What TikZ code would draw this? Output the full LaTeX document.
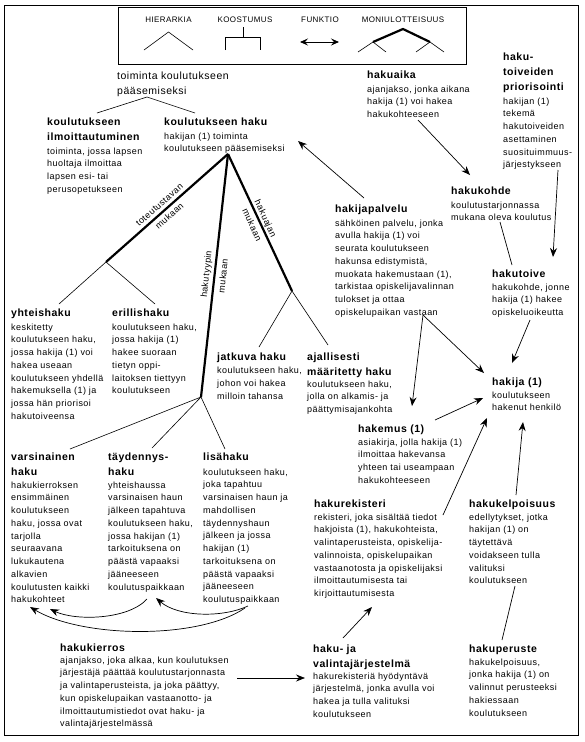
\documentclass[tikz,border=0pt]{standalone}
\usepackage{fontspec}
\setmainfont[LetterSpace=5]{Liberation Sans}
\usetikzlibrary{arrows.meta}
\begin{document}
\begin{tikzpicture}[x=1pt,y=-1pt,
  ttl/.style={anchor=north west, inner sep=0pt, align=left, font=\fontsize{10.5}{15}\selectfont\bfseries},
  bdy/.style={anchor=north west, inner sep=0pt, align=left, font=\fontsize{9}{12.75}\selectfont},
  toptxt/.style={anchor=north west, inner sep=0pt, align=left, font=\fontsize{10.5}{15}\selectfont},
  leg/.style={inner sep=0pt, font=\fontsize{8}{9}\selectfont},
  lbl/.style={inner sep=0pt, align=center, font=\fontsize{9}{15}\selectfont},
  thinln/.style={line width=0.6pt},
  thickln/.style={line width=2.2pt},
  arr/.style={line width=0.7pt, -{Stealth[length=9pt,width=7pt,inset=3pt]}},
  plain/.style={line width=0.7pt}
]
\useasboundingbox (0,0) rectangle (584,742);
% frames
\draw[line width=0.8pt] (4.5,5) rectangle (578,735.5);
\draw[line width=0.8pt] (118.5,7.5) rectangle (466,64);
% legend
\node[leg] (lh) at (168.5,19.5) {HIERARKIA};
\node[leg] (lk) at (245,19.5) {KOOSTUMUS};
\node[leg] (lf) at (320,19.5) {FUNKTIO};
\node[leg] (lm) at (403,19.5) {MONIULOTTEISUUS};
\draw[thinln] (144,50) -- (168.5,32) -- (193,50);
\draw[thinln] (243,27) -- (243,37.5);
\draw[thinln] (225,50) -- (225,37.5) -- (260,37.5) -- (260,50);
\draw[line width=0.9pt, {Stealth[length=8pt,width=7pt,inset=3pt]}-{Stealth[length=8pt,width=7pt,inset=3pt]}] (300,42) -- (339,42);
\draw[thickln] (373,42) -- (403,29) -- (430,42);
\draw[thinln] (358,52) -- (373,42) -- (386,52);
\draw[thinln] (416,52) -- (430,42) -- (444,52);

% concept nodes
\node[toptxt] (top) at (117,71.5) {toiminta koulutukseen\\pääsemiseksi};

\node[ttl] (kilmT) at (47,117.5) {koulutukseen\\ilmoittautuminen};
\node[bdy] (kilmB) at (47,147.3) {toiminta, jossa lapsen\\huoltaja ilmoittaa\\lapsen esi- tai\\perusopetukseen};

\node[ttl] (khakuT) at (164,117.5) {koulutukseen haku};
\node[bdy] (khakuB) at (164,132.3) {hakijan (1) toiminta\\koulutukseen pääsemiseksi};

\node[ttl] (yhtT) at (11,308.5) {yhteishaku};
\node[bdy] (yhtB) at (11,323.3) {keskitetty\\koulutukseen haku,\\jossa hakija (1) voi\\hakea useaan\\koulutukseen yhdellä\\hakemuksella (1) ja\\jossa hän priorisoi\\hakutoiveensa};

\node[ttl] (eriT) at (112,308.5) {erillishaku};
\node[bdy] (eriB) at (112,323.3) {koulutukseen haku,\\jossa hakija (1)\\hakee suoraan\\tietyn oppi-\\laitoksen tiettyyn\\koulutukseen};

\node[ttl] (jatT) at (217,352.5) {jatkuva haku};
\node[bdy] (jatB) at (217,367) {koulutukseen haku,\\johon voi hakea\\milloin tahansa};

\node[ttl] (ajaT) at (307,352.5) {ajallisesti\\määritetty haku};
\node[bdy] (ajaB) at (307,380.3) {koulutukseen haku,\\jolla on alkamis- ja\\päättymisajankohta};

\node[ttl] (palT) at (335,204.5) {hakijapalvelu};
\node[bdy] (palB) at (335,219.3) {sähköinen palvelu, jonka\\avulla hakija (1) voi\\seurata koulutukseen\\hakunsa edistymistä,\\muokata hakemustaan (1),\\tarkistaa opiskelijavalinnan\\tulokset ja ottaa\\opiskelupaikan vastaan};

\node[ttl] (aikaT) at (367,70.5) {hakuaika};
\node[bdy] (aikaB) at (367,85.3) {ajanjakso, jonka aikana\\hakija (1) voi hakea\\hakukohteeseen};

\node[ttl] (prioT) at (503,52.5) {haku-\\toiveiden\\priorisointi};
\node[bdy] (prioB) at (503,97.3) {hakijan (1)\\tekemä\\hakutoiveiden\\asettaminen\\suosituimmuus-\\järjestykseen};

\node[ttl] (kohT) at (451,186.5) {hakukohde};
\node[bdy] (kohB) at (451,201.3) {koulutustarjonnassa\\mukana oleva koulutus};

\node[ttl] (toiT) at (492,269.5) {hakutoive};
\node[bdy] (toiB) at (492,283.3) {hakukohde, jonne\\hakija (1) hakee\\opiskeluoikeutta};

\node[ttl] (hakT) at (492,377.5) {hakija (1)};
\node[bdy] (hakB) at (492,391.3) {koulutukseen\\hakenut henkilö};

\node[ttl] (hemT) at (358,424.5) {hakemus (1)};
\node[bdy] (hemB) at (358,438.3) {asiakirja, jolla hakija (1)\\ilmoittaa hakevansa\\yhteen tai useampaan\\hakukohteeseen};

\node[ttl] (rekT) at (314,499.5) {hakurekisteri};
\node[bdy] (rekB) at (314,513.3) {rekisteri, joka sisältää tiedot\\hakjoista (1), hakukohteista,\\valintaperusteista, opiskelija-\\valinnoista, opiskelupaikan\\vastaanotosta ja opiskelijaksi\\ilmoittautumisesta tai\\kirjoittautumisesta};

\node[ttl] (kelT) at (469,499.5) {hakukelpoisuus};
\node[bdy] (kelB) at (469,513.3) {edellytykset, jotka\\hakijan (1) on\\täytettävä\\voidakseen tulla\\valituksi\\koulutukseen};

\node[ttl] (varT) at (11,452.5) {varsinainen\\haku};
\node[bdy] (varB) at (11,481.3) {hakukierroksen\\ensimmäinen\\koulutukseen\\haku, jossa ovat\\tarjolla\\seuraavana\\lukukautena\\alkavien\\koulutusten kaikki\\hakukohteet};

\node[ttl] (tayT) at (108,452.5) {täydennys-\\haku};
\node[bdy] (tayB) at (108,481.3) {yhteishaussa\\varsinaisen haun\\jälkeen tapahtuva\\koulutukseen haku,\\jossa hakijan (1)\\tarkoituksena on\\päästä vapaaksi\\jääneeseen\\koulutuspaikkaan};

\node[ttl] (lisT) at (203,452.5) {lisähaku};
\node[bdy] (lisB) at (203,468.3) {koulutukseen haku,\\joka tapahtuu\\varsinaisen haun ja\\mahdollisen\\täydennyshaun\\jälkeen ja jossa\\hakijan (1)\\tarkoituksena on\\päästä vapaaksi\\jääneeseen\\koulutuspaikkaan};

\node[ttl] (kieT) at (60,643.5) {hakukierros};
\node[bdy] (kieB) at (60,656.3) {ajanjakso, joka alkaa, kun koulutuksen\\järjestäjä päättää koulutustarjonnasta\\ja valintaperusteista, ja joka päättyy,\\kun opiskelupaikan vastaanotto- ja\\ilmoittautumistiedot ovat haku- ja\\valintajärjestelmässä};

\node[ttl] (jarT) at (313,644.5) {haku- ja\\valintajärjestelmä};
\node[bdy] (jarB) at (313,672.3) {hakurekisteriä hyödyntävä\\järjestelmä, jonka avulla voi\\hakea ja tulla valituksi\\koulutukseen};

\node[ttl] (perT) at (469,644.5) {hakuperuste};
\node[bdy] (perB) at (469,658.3) {hakukelpoisuus,\\jonka hakija (1) on\\valinnut perusteeksi\\hakiessaan\\koulutukseen};

% hierarchy coordinates
\coordinate (c0) at (147,97);
\coordinate (c0l) at (97,113);
\coordinate (c0r) at (195,113);
\coordinate (A) at (228,154);
\coordinate (B1) at (106,262);
\coordinate (B2) at (201,397);
\coordinate (B3) at (292,291);
\coordinate (yh) at (59,304);
\coordinate (er) at (155,304);
\coordinate (ja) at (259,347);
\coordinate (aj) at (328,345);
\coordinate (va) at (70,449);
\coordinate (ta) at (152,448);
\coordinate (li) at (225,449);

\draw[thinln] (c0l) -- (c0) -- (c0r);
\draw[thickln] (A) -- (B1);
\draw[thickln] (A) -- (B2);
\draw[thickln] (A) -- (B3);
\draw[thinln] (yh) -- (B1) -- (er);
\draw[thinln] (ja) -- (B3) -- (aj);
\draw[thinln] (va) -- (B2) -- (ta);
\draw[thinln] (B2) -- (li);

\node[lbl, rotate=41.5] (l1) at (164.5,210.5) {toteutustavan\\mukaan};
\node[lbl, rotate=84, font=\fontsize{9}{17}\selectfont] (l2) at (214.5,275) {hakutyypin\\mukaan};
\node[lbl, rotate=-65] (l3) at (259,221.5) {hakuajan\\mukaan};

% functional arrows
\coordinate (p1) at (364,198); \coordinate (q1) at (298,141);
\coordinate (p2) at (418,120); \coordinate (q2) at (470,175);
\coordinate (p3) at (558,170); \coordinate (q3) at (553,257);
\coordinate (p4) at (500,222); \coordinate (q4) at (512,265);
\coordinate (p5) at (530,320); \coordinate (q5) at (512,363);
\coordinate (p6) at (423,315); \coordinate (q6a) at (484,373); \coordinate (q6b) at (412,406);
\coordinate (p7) at (435,420); \coordinate (q7) at (483,398);
\coordinate (p8) at (443,515); \coordinate (q8) at (487,418);
\coordinate (p9) at (516,495); \coordinate (q9) at (523,422);
\coordinate (p10) at (515,586); \coordinate (q10) at (502,640);
\coordinate (p11) at (343,638); \coordinate (q11) at (372,607);
\coordinate (p12) at (237,678); \coordinate (q12) at (305,678);

\draw[arr] (p1) -- (q1);
\draw[arr] (p2) -- (q2);
\draw[arr] (p3) -- (q3);
\draw[plain] (p4) -- (q4);
\draw[arr] (p5) -- (q5);
\draw[arr] (p6) -- (q6a);
\draw[arr] (p6) -- (q6b);
\draw[arr] (p7) -- (q7);
\draw[arr] (p8) -- (q8);
\draw[arr] (p9) -- (q9);
\draw[plain] (p10) -- (q10);
\draw[arr] (p11) -- (q11);
\draw[arr] (p12) -- (q12);

% curved arrows
\coordinate (s1) at (248,606); \coordinate (t1) at (156,598);
\coordinate (s2) at (147,599); \coordinate (t2) at (50,609);
\coordinate (s3) at (245,608); \coordinate (t3) at (30,607);
\draw[arr] (s1) .. controls (222,618) and (178,617) .. (t1);
\draw[arr] (s2) .. controls (128,620) and (75,621) .. (t2);
\draw[arr] (s3) .. controls (198,640) and (82,638) .. (t3);
\end{tikzpicture}
\end{document}
